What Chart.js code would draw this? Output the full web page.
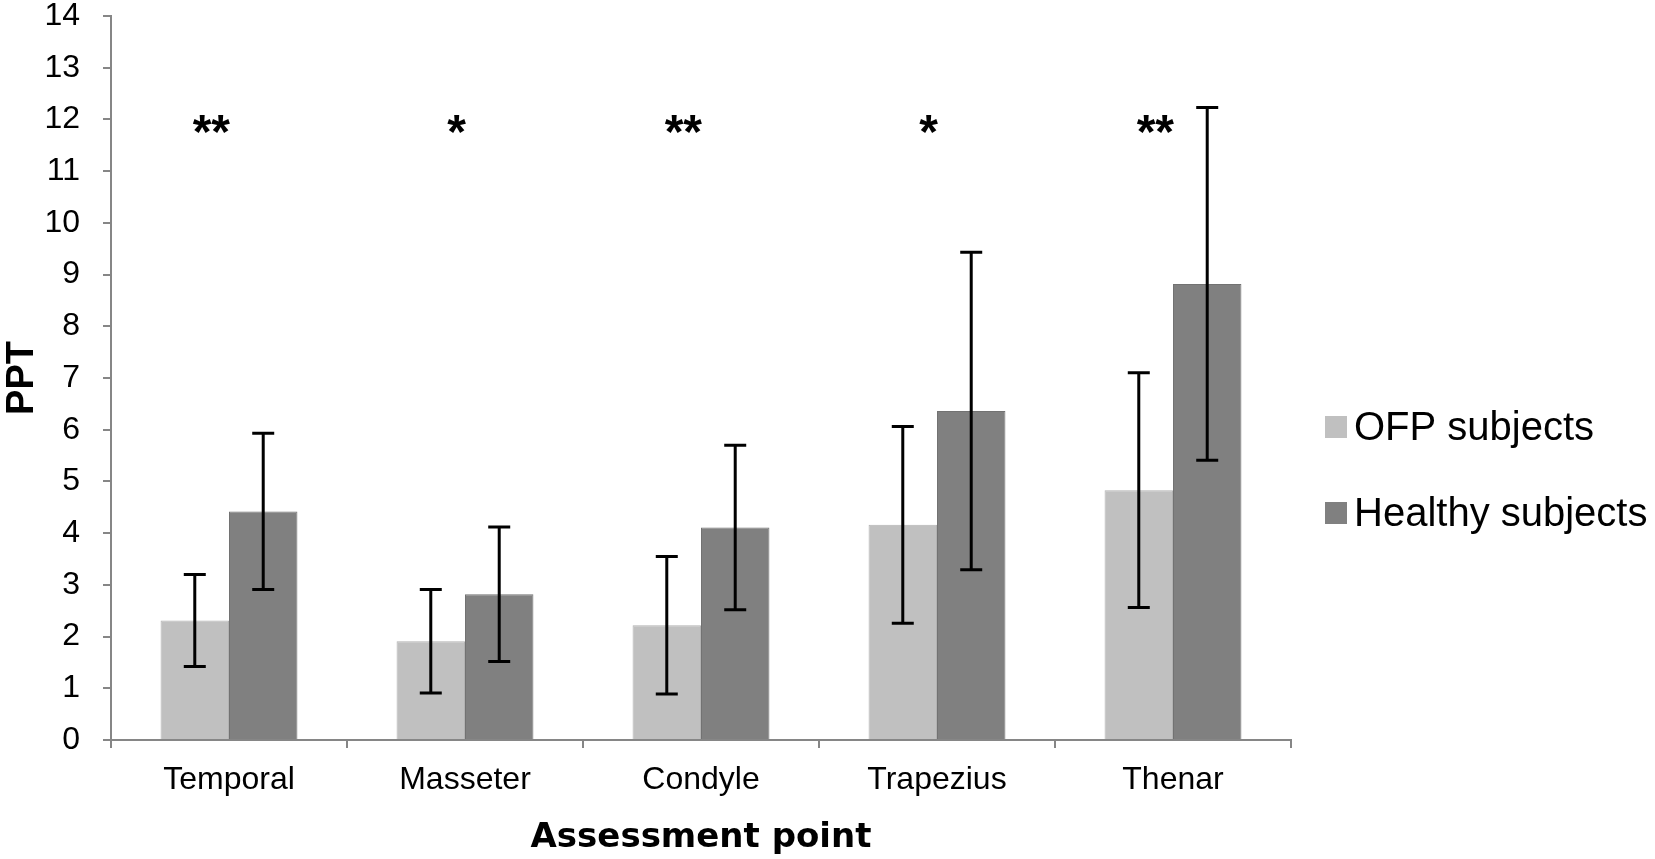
<!DOCTYPE html>
<html>
<head>
<meta charset="utf-8">
<script src="https://cdn.jsdelivr.net/npm/chart.js@4/dist/chart.umd.min.js"></script>
<style>
  html, body { margin: 0; padding: 0; background: #ffffff; }
  #wrap { width: 1655px; height: 859px; }
</style>
</head>
<body>
<div id="wrap"><canvas id="c" width="1655" height="859"></canvas></div>
<script>
// ---- data ----
const categories = ['Temporal', 'Masseter', 'Condyle', 'Trapezius', 'Thenar'];
const seriesNames = ['OFP subjects', 'Healthy subjects'];
const ofpMeans = [2.31, 1.91, 2.22, 4.16, 4.83];
const ofpSD = [0.89, 1.00, 1.33, 1.90, 2.27];
const healthyMeans = [4.42, 2.82, 4.11, 6.36, 8.82];
const healthySD = [1.51, 1.30, 1.59, 3.07, 3.41];
const significance = ['**', '*', '**', '*', '**'];
const yMin = 0, yMax = 14, yStep = 1;
const starLevel = 11.45;

const colors = ['#c0c0c0', '#808080'];
const borders = ['#b2b2b2', '#727272'];

const errorBars = {
  id: 'errorBars',
  afterDatasetsDraw(chart) {
    const ctx = chart.ctx;
    const y = chart.scales.y;
    const sds = [ofpSD, healthySD];
    ctx.save();
    ctx.strokeStyle = '#000000';
    ctx.lineWidth = 3;
    chart.data.datasets.forEach((ds, i) => {
      const meta = chart.getDatasetMeta(i);
      meta.data.forEach((bar, j) => {
        const m = ds.data[j], s = sds[i][j];
        const yt = y.getPixelForValue(m + s);
        const yb = y.getPixelForValue(m - s);
        const x = bar.x;
        ctx.beginPath();
        ctx.moveTo(x, yt); ctx.lineTo(x, yb);
        ctx.moveTo(x - 11, yt); ctx.lineTo(x + 11, yt);
        ctx.moveTo(x - 11, yb); ctx.lineTo(x + 11, yb);
        ctx.stroke();
      });
    });
    ctx.restore();
  }
};

const stars = {
  id: 'stars',
  afterDatasetsDraw(chart) {
    const ctx = chart.ctx;
    const xs = chart.scales.x, ys = chart.scales.y;
    ctx.save();
    ctx.fillStyle = '#000000';
    ctx.font = 'bold 48px "Liberation Sans", Arial, sans-serif';
    ctx.textAlign = 'right';
    ctx.textBaseline = 'alphabetic';
    significance.forEach((s, j) => {
      ctx.fillText(s, xs.getPixelForValue(j) + 1, ys.getPixelForValue(starLevel));
    });
    ctx.restore();
  }
};

const legendPlugin = {
  id: 'customLegend',
  afterDraw(chart) {
    const ctx = chart.ctx;
    const x0 = chart.chartArea.right + 34;
    const y0 = 427;
    ctx.save();
    ctx.font = '40px "Liberation Sans", Arial, sans-serif';
    ctx.textBaseline = 'middle';
    ctx.textAlign = 'left';
    chart.data.datasets.forEach((ds, i) => {
      const yc = y0 + i * 86;
      ctx.fillStyle = ds.backgroundColor;
      ctx.fillRect(x0, yc - 11, 22, 22);
      ctx.fillStyle = '#000000';
      ctx.fillText(ds.label, x0 + 29, yc + 2);
    });
    ctx.restore();
  }
};

new Chart(document.getElementById('c'), {
  type: 'bar',
  data: {
    labels: categories,
    datasets: [
      { label: seriesNames[0], data: ofpMeans, backgroundColor: colors[0], borderColor: borders[0], borderWidth: 1,
        categoryPercentage: 0.58, barPercentage: 1.0 },
      { label: seriesNames[1], data: healthyMeans, backgroundColor: colors[1], borderColor: borders[1], borderWidth: 1,
        categoryPercentage: 0.58, barPercentage: 1.0 }
    ]
  },
  options: {
    responsive: false,
    devicePixelRatio: 1,
    animation: false,
    layout: { padding: { top: 16, right: 364, left: 0, bottom: 0 } },
    plugins: {
      legend: { display: false },
      tooltip: { enabled: false },
      title: { display: false }
    },
    scales: {
      x: {
        grid: { display: true, drawOnChartArea: false, drawTicks: true, tickLength: 8, offset: true,
                color: '#868686', lineWidth: 2 },
        border: { display: true, color: '#868686', width: 2 },
        ticks: { color: '#000000', font: { family: '"Liberation Sans", Arial, sans-serif', size: 32 }, padding: 13,
                 maxRotation: 0, autoSkip: false },
        title: { display: true, text: 'Assessment point', color: '#000000',
                 font: { family: '"DejaVu Sans", Verdana, sans-serif', size: 34, weight: 'bold', lineHeight: 1 },
                 padding: { top: 0, bottom: 4 } },
        afterFit(scale) { scale.height = 119; scale.paddingLeft = 0; scale.paddingRight = 0; }
      },
      y: {
        min: yMin, max: yMax,
        grid: { display: true, drawOnChartArea: false, drawTicks: true, tickLength: 8, color: '#868686', lineWidth: 2 },
        border: { display: true, color: '#868686', width: 2 },
        ticks: { stepSize: yStep, color: '#000000', font: { family: '"Liberation Sans", Arial, sans-serif', size: 32 }, padding: 23 },
        title: { display: true, text: 'PPT', color: '#000000',
                 font: { family: '"Liberation Sans", Arial, sans-serif', size: 38, weight: 'bold', lineHeight: 1 },
                 padding: { top: 4, bottom: 0 } },
        afterFit(scale) { scale.width = 111; scale.paddingTop = 0; scale.paddingBottom = 0; }
      }
    }
  },
  plugins: [errorBars, stars, legendPlugin]
});
</script>
</body>
</html>
